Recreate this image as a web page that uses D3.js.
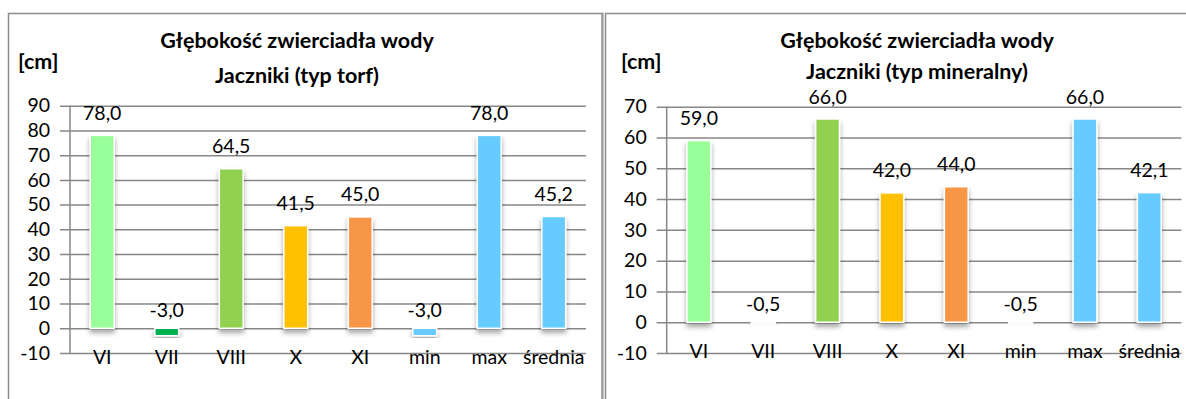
<!DOCTYPE html>
<head>
  <meta charset="utf-8">
  <script src="https://d3js.org/d3.v7.min.js"></script>
  <style>
    body { margin:0; background:#fff; }
    text { font-family: Lato, 'Noto Sans', sans-serif; fill:#000; }
  </style>
</head>

<body>
  <script>
    // data
    var categories = ['VI', 'VII', 'VIII', 'X', 'XI', 'min', 'max', 'średnia'];
    var torfValues = [78.0, -3.0, 64.5, 41.5, 45.0, -3.0, 78.0, 45.2];
    var mineralValues = [59.0, -0.5, 66.0, 42.0, 44.0, -0.5, 66.0, 42.1];
    var torfTicks = [-10, 0, 10, 20, 30, 40, 50, 60, 70, 80, 90];
    var mineralTicks = [-10, 0, 10, 20, 30, 40, 50, 60, 70];
    var titleLine1 = 'Głębokość zwierciadła wody';
    var torfSubtitle = 'Jaczniki (typ torf)';
    var mineralSubtitle = 'Jaczniki (typ mineralny)';
    var unitLabel = '[cm]';

    var barColors = ['#99FF99', '#00B050', '#92D050', '#FFC000', '#F79646', '#66CCFF', '#66CCFF', '#66CCFF'];

    var width = 1186;
    var height = 399;
    var gridColor = '#878787';

    var svg = d3.select('body')
      .append('svg')
      .attr('width', width)
      .attr('height', height);

    // soft shadow under the bars
    var filter = svg.append('defs').append('filter')
      .attr('id', 'shadow')
      .attr('x', '-30%').attr('y', '-30%')
      .attr('width', '160%').attr('height', '160%');
    filter.append('feDropShadow')
      .attr('dx', 0).attr('dy', 4)
      .attr('stdDeviation', 2.5)
      .attr('flood-color', '#000')
      .attr('flood-opacity', 0.35);

    // panel frames
    svg.append('rect')
      .attr('x', 8.5).attr('y', 13.5)
      .attr('width', 593.5).attr('height', 400)
      .attr('fill', 'none').attr('stroke', '#8c8c8c').attr('stroke-width', 1.5);
    svg.append('rect')
      .attr('x', 605.5).attr('y', 13.5)
      .attr('width', 600).attr('height', 400)
      .attr('fill', 'none').attr('stroke', '#8c8c8c').attr('stroke-width', 1.5);

    // hyphen instead of unicode minus, comma as decimal mark
    var fmt = function(v) { return d3.format('.1f')(v).replace('.', ',').replace('\u2212', '-'); };
    var fmtTick = function(v) { return String(v); };

    function drawChart(opts) {
      var g = svg.append('g');

      var x = d3.scaleBand()
        .domain(categories)
        .range([opts.left, opts.right])
        .paddingInner(0.63)
        .paddingOuter(0.315);

      var y = d3.scaleLinear()
        .domain([opts.ticks[0], opts.ticks[opts.ticks.length - 1]])
        .range([opts.bottom, opts.top]);

      // titles
      g.append('text')
        .attr('x', opts.titleX).attr('y', 40)
        .attr('text-anchor', 'middle').attr('dominant-baseline', 'central')
        .style('font-size', '21.5px').style('font-weight', 'bold')
        .text(titleLine1);
      g.append('text')
        .attr('x', opts.titleX).attr('y', opts.subY)
        .attr('text-anchor', 'middle').attr('dominant-baseline', 'central')
        .style('font-size', '21.5px').style('font-weight', 'bold')
        .text(opts.subtitle);
      g.append('text')
        .attr('x', opts.unitX).attr('y', 61)
        .attr('dominant-baseline', 'central')
        .style('font-size', '21.5px').style('font-weight', 'bold')
        .text(unitLabel);

      // y axis with gridlines
      var yAxis = d3.axisLeft(y)
        .tickValues(opts.ticks)
        .tickSize(-(opts.right - opts.left))
        .tickPadding(20)
        .tickFormat(fmtTick);

      var ya = g.append('g')
        .attr('transform', 'translate(' + opts.left + ',0)')
        .call(yAxis);
      ya.select('.domain').remove();
      ya.selectAll('.tick line')
        .attr('x1', -10)
        .attr('stroke', gridColor).attr('stroke-width', 1.5);
      ya.selectAll('.tick text')
        .style('font-size', '19.5px')
        .style('font-family', 'Lato, sans-serif')
        .attr('fill', '#000');

      g.append('line')
        .attr('x1', opts.left).attr('x2', opts.left)
        .attr('y1', opts.top).attr('y2', opts.bottom)
        .attr('stroke', gridColor).attr('stroke-width', 1.5);

      // bars
      g.selectAll('rect.bar')
        .data(opts.values)
        .enter()
        .append('rect')
        .attr('class', 'bar')
        .attr('x', (d, i) => x(categories[i]))
        .attr('width', x.bandwidth())
        .attr('y', d => y(Math.max(d, 0)))
        .attr('height', d => Math.abs(y(d) - y(0)))
        .attr('fill', (d, i) => barColors[i])
        .attr('stroke', '#fff')
        .attr('stroke-width', 1.5)
        .attr('filter', 'url(#shadow)');

      // value labels
      g.selectAll('text.val')
        .data(opts.values)
        .enter()
        .append('text')
        .attr('class', 'val')
        .attr('x', (d, i) => x(categories[i]) + x.bandwidth() / 2)
        .attr('y', d => d >= 0 ? y(d) - 23 : y(0) - 19)
        .attr('text-anchor', 'middle')
        .attr('dominant-baseline', 'central')
        .style('font-size', '19.5px')
        .text(d => fmt(d));

      // category labels
      g.selectAll('text.cat')
        .data(categories)
        .enter()
        .append('text')
        .attr('class', 'cat')
        .attr('x', d => x(d) + x.bandwidth() / 2)
        .attr('y', y(0) + 28)
        .attr('text-anchor', 'middle')
        .attr('dominant-baseline', 'central')
        .style('font-size', '19.5px')
        .text(d => d);
    }

    drawChart({
      values: torfValues, ticks: torfTicks, subtitle: torfSubtitle,
      left: 70, right: 586, top: 105.7, bottom: 353,
      titleX: 297, subY: 75, unitX: 18
    });

    drawChart({
      values: mineralValues, ticks: mineralTicks, subtitle: mineralSubtitle,
      left: 666.7, right: 1181.5, top: 106.7, bottom: 353,
      titleX: 917, subY: 71, unitX: 621
    });

    // second line of the right frame's double edge
    svg.append('line')
      .attr('x1', 603).attr('x2', 603)
      .attr('y1', 12.5).attr('y2', height)
      .attr('stroke', '#8c8c8c').attr('stroke-width', 1);
  </script>
</body>
